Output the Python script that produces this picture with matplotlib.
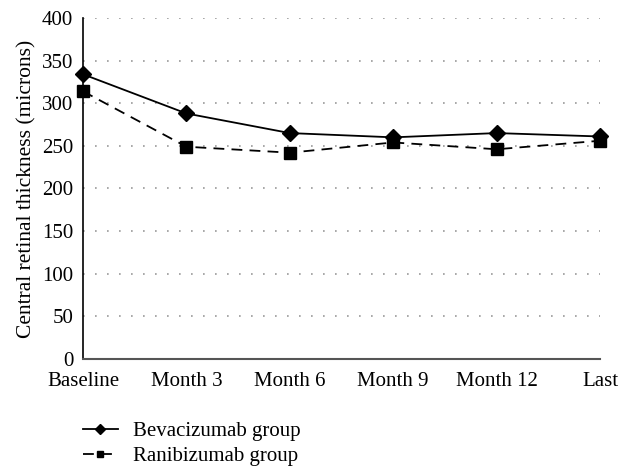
import numpy as np
import matplotlib.pyplot as plt

plt.rcParams['font.family'] = ['Liberation Serif', 'DejaVu Serif']

visits = ['Baseline', 'Month 3', 'Month 6', 'Month 9', 'Month 12', 'Last']
bevacizumab = [334, 288, 265, 260, 265, 261]
ranibizumab = [314, 249, 242, 254, 246, 256]

fontsize = 15

fig = plt.figure(figsize=(6.33, 4.72), dpi=100)
ax = fig.add_axes([0.1311, 0.2394, 0.8169, 0.7225])

x = np.arange(len(visits))
ax.plot(x, bevacizumab, color='k', linewidth=1.3, marker='D', markersize=8.5,
        label='Bevacizumab group', clip_on=False, zorder=3)
ax.plot(x, ranibizumab, color='k', linewidth=1.3, linestyle=(0, (6, 4)), marker='s',
        markersize=9, label='Ranibizumab group', clip_on=False, zorder=3)

ax.set_xlim(0, len(visits) - 1)
ax.set_ylim(0, 400)
ax.set_yticks(np.arange(0, 401, 50))
ax.set_xticks(x)
ax.set_xticklabels(visits)
ax.tick_params(axis='both', length=0, labelsize=fontsize)
ax.tick_params(axis='y', pad=7)
ax.tick_params(axis='x', pad=9)

for y in np.arange(50, 401, 50):
    ax.axhline(y, color='#999999', linewidth=1.2, linestyle=(0, (1, 6.2)), zorder=1)

ax.spines['top'].set_visible(False)
ax.spines['right'].set_visible(False)
ax.spines['left'].set_color('k')
ax.spines['bottom'].set_color('#555555')
ax.spines['left'].set_linewidth(1.2)
ax.spines['bottom'].set_linewidth(1.5)

ax.set_ylabel('Central retinal thickness (microns)', fontsize=15.5, labelpad=4)

fig.legend(loc='upper left', bbox_to_anchor=(0.131, 0.107), frameon=False,
           fontsize=fontsize, markerscale=0.55, handlelength=1.68, handletextpad=0.72,
           labelspacing=0.25, borderaxespad=0, borderpad=0)

fig.savefig('out.png', dpi=100)
